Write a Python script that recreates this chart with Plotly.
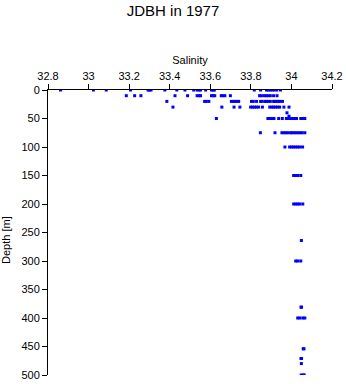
import plotly.graph_objects as go

# Salinity readings per sampling depth
depth_levels = [0, 10, 20, 30, 40, 46, 50, 75, 100, 150, 200, 264, 300, 381, 400, 454, 471, 480, 500]

sal_0 = [32.862, 33.024, 33.087, 33.207, 33.293, 33.300, 33.308, 33.376, 33.435, 33.475,
         33.518, 33.535, 33.545, 33.552, 33.577, 33.606, 33.614, 33.620, 33.817, 33.848,
         33.877, 33.886, 33.895, 33.905, 33.915, 33.928, 33.946]
sal_10 = [33.186, 33.227, 33.258, 33.426, 33.488, 33.535, 33.545, 33.552, 33.606, 33.614,
          33.622, 33.654, 33.662, 33.672, 33.699, 33.843, 33.852, 33.866, 33.876, 33.886,
          33.896, 33.912, 33.929]
sal_20 = [33.386, 33.572, 33.580, 33.593, 33.704, 33.713, 33.722, 33.732, 33.740, 33.803,
          33.812, 33.828, 33.848, 33.856, 33.870, 33.876, 33.886, 33.896, 33.912, 33.917,
          33.926, 33.934, 33.943, 33.956]
sal_30 = [33.416, 33.657, 33.717, 33.746, 33.799, 33.808, 33.818, 33.828, 33.838, 33.857,
          33.893, 33.904, 33.912, 33.922, 33.932, 33.942, 33.963, 33.988]
sal_40 = [33.978]
sal_46 = [33.988]
sal_50 = [33.630, 33.884, 33.894, 33.904, 33.914, 33.937, 33.955, 33.975, 33.985, 33.995,
          34.005, 34.015, 34.025, 34.046, 34.056, 34.066]
sal_75 = [33.847, 33.919, 33.953, 33.963, 33.973, 33.983, 33.996, 34.003, 34.013, 34.023,
          34.033, 34.043, 34.053, 34.066]
sal_100 = [33.968, 33.991, 34.001, 34.011, 34.021, 34.031, 34.041, 34.055]
sal_150 = [34.011, 34.021, 34.031, 34.046]
sal_200 = [34.011, 34.021, 34.031, 34.041, 34.056]
sal_264 = [34.049]
sal_300 = [34.021, 34.031, 34.046]
sal_381 = [34.047, 34.050]
sal_400 = [34.031, 34.041, 34.056, 34.066]
sal_454 = [34.058, 34.062]
sal_471 = [34.047, 34.050]
sal_480 = [34.049]
sal_500 = [34.048, 34.058, 34.063]

sal_rows = [sal_0, sal_10, sal_20, sal_30, sal_40, sal_46, sal_50, sal_75, sal_100, sal_150,
            sal_200, sal_264, sal_300, sal_381, sal_400, sal_454, sal_471, sal_480, sal_500]

x_ticks = [32.8, 33.0, 33.2, 33.4, 33.6, 33.8, 34.0, 34.2]
x_tick_text = ["32.8", "33", "33.2", "33.4", "33.6", "33.8", "34", "34.2"]
y_ticks = [0, 50, 100, 150, 200, 250, 300, 350, 400, 450, 500]

xs, ys = [], []
for d, row in zip(depth_levels, sal_rows):
    for s in row:
        xs.append(s)
        ys.append(d)

font_family = "Liberation Sans, Arial, sans-serif"

fig = go.Figure()
fig.add_trace(go.Scatter(
    x=xs, y=ys, mode="markers",
    marker=dict(symbol="square", size=3, color="#0000ff", line=dict(width=0)),
    showlegend=False, hoverinfo="x+y",
))

fig.update_layout(
    width=346, height=384,
    margin=dict(l=48, r=14, t=90, b=9, autoexpand=False),
    paper_bgcolor="white", plot_bgcolor="white",
    font=dict(family=font_family, size=11, color="black"),
    title=dict(text="JDBH in 1977", x=0.5, xanchor="center", y=1 - 11 / 384,
               yanchor="middle", yref="container",
               font=dict(family=font_family, size=15, color="black")),
    xaxis=dict(
        side="top", range=[32.8, 34.2], tickvals=x_ticks, ticktext=x_tick_text,
        showline=True, linecolor="black", linewidth=1, mirror=False,
        ticks="outside", ticklen=5, tickcolor="black", tickwidth=1,
        showgrid=False, zeroline=False, automargin=False,
        title=dict(text="Salinity", standoff=2, font=dict(size=11)),
        tickfont=dict(size=11),
    ),
    yaxis=dict(
        range=[500, 0], tickvals=y_ticks,
        showline=True, linecolor="black", linewidth=1, mirror=False,
        ticks="outside", ticklen=5, tickcolor="black", tickwidth=1,
        showgrid=False, zeroline=False, automargin=False,
        tickfont=dict(size=11),
    ),
    annotations=[dict(
        text="Depth [m]", textangle=-90, showarrow=False,
        xref="paper", yref="paper", x=0, xshift=-42, y=1 - 150 / 285,
        xanchor="center", yanchor="middle", font=dict(size=11),
    )],
)

fig.write_html("out.html")
